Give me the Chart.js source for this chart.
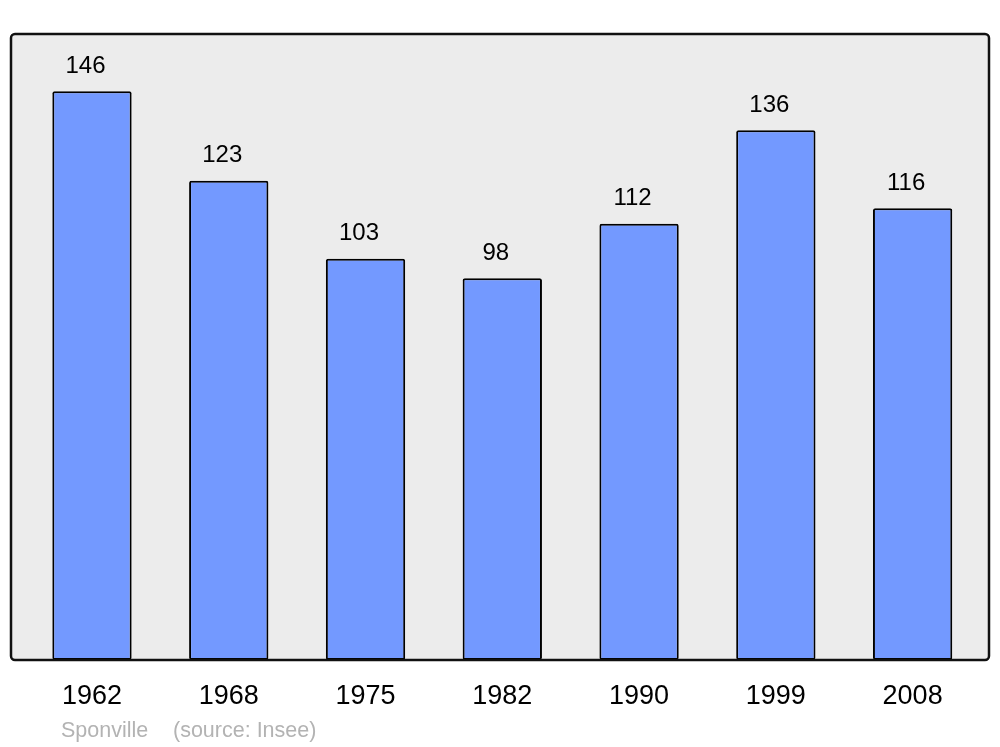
<!DOCTYPE html>
<html>
<head>
<meta charset="utf-8">
<script src="https://cdn.jsdelivr.net/npm/chart.js@4/dist/chart.umd.min.js"></script>
<style>
  body { margin: 0; background: #ffffff; }
  #wrap { width: 1000px; height: 747px; }
</style>
</head>
<body>
<div id="wrap"><canvas id="popChart" width="1000" height="747"></canvas></div>
<script>
// population per census year
var years = ["1962", "1968", "1975", "1982", "1990", "1999", "2008"];
var population = [146, 123, 103, 98, 112, 136, 116];
var yMax = 160.7;

var frameBox = {
    id: 'frameBox',
    beforeDatasetsDraw: function(chart) {
        var a = chart.chartArea, ctx = chart.ctx;
        ctx.save();
        ctx.beginPath();
        ctx.roundRect(a.left - 12.6, a.top, a.right - a.left + 20.6, a.bottom - a.top, 4);
        ctx.fillStyle = '#ececec';
        ctx.fill();
        ctx.restore();
    },
    afterDatasetsDraw: function(chart) {
        var a = chart.chartArea, ctx = chart.ctx;
        ctx.save();
        // frame outline
        ctx.beginPath();
        ctx.roundRect(a.left - 12.6, a.top, a.right - a.left + 20.6, a.bottom - a.top, 4);
        ctx.lineWidth = 2.5;
        ctx.strokeStyle = '#111111';
        ctx.stroke();
        // value labels above bars (sit a little left of bar centre)
        ctx.font = '24px "Liberation Sans", Arial, sans-serif';
        ctx.fillStyle = '#000000';
        ctx.textAlign = 'center';
        ctx.textBaseline = 'middle';
        chart.getDatasetMeta(0).data.forEach(function(bar, i) {
            ctx.fillText(population[i], bar.x - 6.5, bar.y - 25);
        });
        // footer text
        ctx.font = '21.5px "Liberation Sans", Arial, sans-serif';
        ctx.fillStyle = '#b3b3b3';
        ctx.textAlign = 'left';
        ctx.fillText('Sponville', 61, 731);
        ctx.fillText('(source: Insee)', 173, 731);
        ctx.restore();
    }
};

new Chart(document.getElementById("popChart"),
{
    type: 'bar',
    data:
    {
        labels: years,
        datasets:
        [{
            data: population,
            backgroundColor: '#7399ff',
            borderColor: '#000000',
            borderWidth: 2,
            borderRadius: 2,
            borderSkipped: false,
            barPercentage: 0.58,
            categoryPercentage: 1.0
        }]
    },
    options:
    {
        responsive: false,
        animation: false,
        layout: { padding: { left: 23.6, right: 19, top: 34, bottom: 0 } },
        plugins: {
            legend: { display: false },
            tooltip: { enabled: false }
        },
        scales: {
            x: {
                grid: { display: false, drawTicks: false },
                border: { display: false },
                ticks: {
                    color: '#000000',
                    padding: 20,
                    font: { family: '"Liberation Sans", Arial, sans-serif', size: 27 }
                },
                afterFit: function(scale) { scale.height = 87; }
            },
            y: {
                display: false,
                min: 0,
                max: yMax
            }
        }
    },
    plugins: [frameBox]
});
</script>
</body>
</html>
